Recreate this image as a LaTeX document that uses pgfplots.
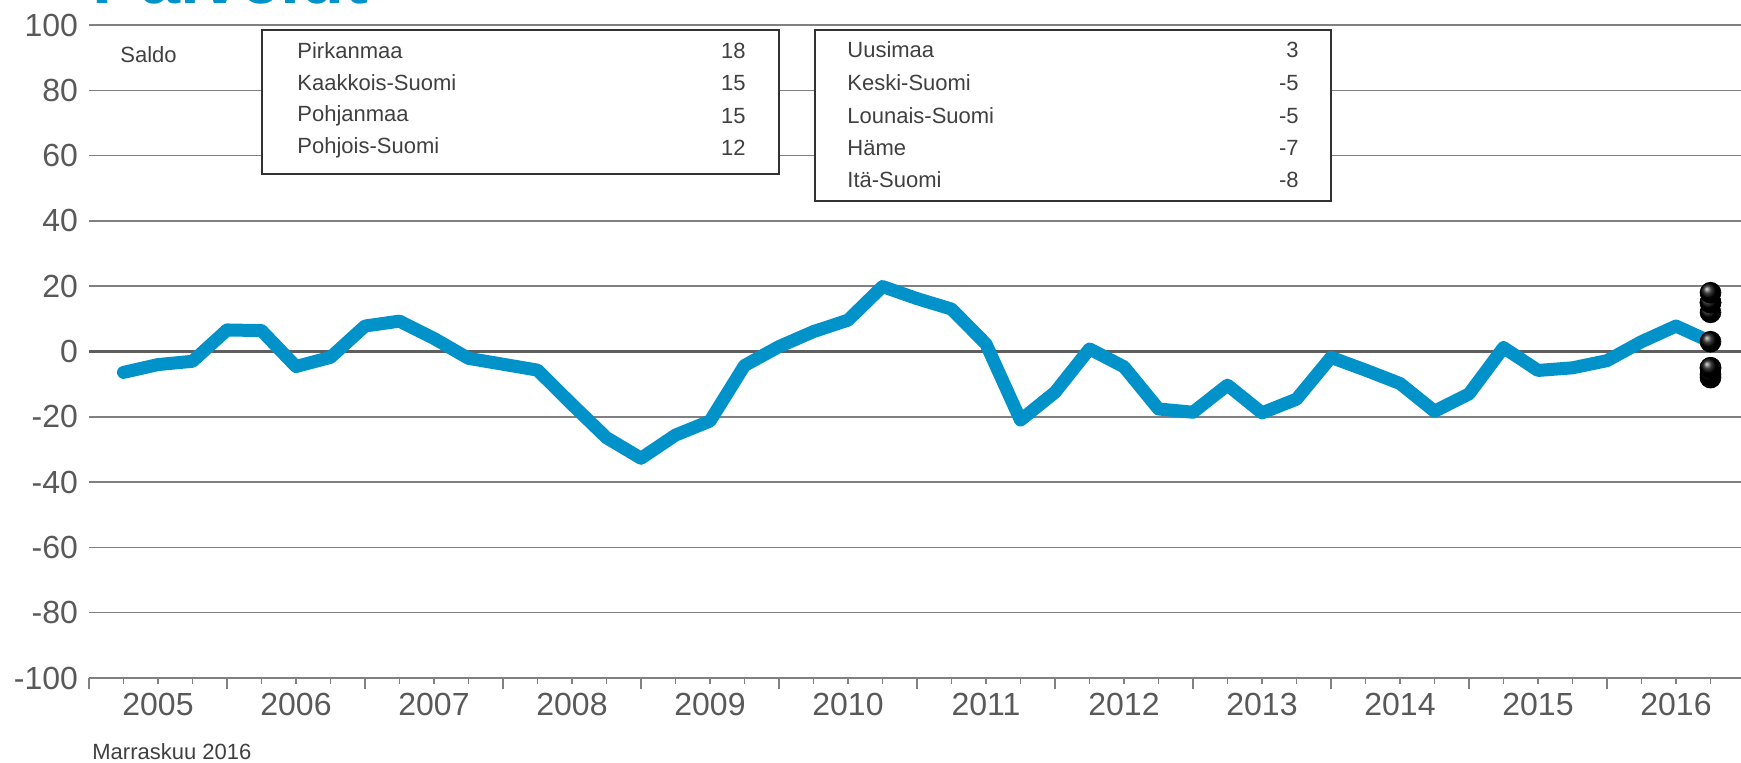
\documentclass[border=0pt]{standalone}
\usepackage{fontspec}
\setmainfont{Liberation Sans}
\usepackage{pgfplots}
\usepackage{pgfplotstable}
\pgfplotsset{compat=1.18}
\definecolor{lineblue}{RGB}{0,146,201}
\definecolor{tickgray}{RGB}{89,89,89}
\definecolor{gridgray}{RGB}{128,128,128}
\definecolor{zerogray}{RGB}{95,95,95}
\definecolor{textgray}{RGB}{64,64,64}
\definecolor{boxgray}{RGB}{50,50,50}

\pgfplotstableread{
i v
1 -6.4
2 -4.0
3 -3.0
4 6.6
5 6.4
6 -4.6
7 -1.8
8 7.8
9 9.3
10 4.0
11 -2.1
12 -3.9
13 -5.7
14 -16.2
15 -26.4
16 -32.7
17 -25.6
18 -21.3
19 -4.3
20 1.5
21 6.1
22 9.6
23 19.9
24 16.2
25 13.0
26 2.3
27 -21.0
28 -12.5
29 0.8
30 -4.7
31 -17.6
32 -18.6
33 -10.3
34 -18.8
35 -14.6
36 -1.8
37 -5.7
38 -9.8
39 -18.3
40 -13.0
41 1.2
42 -5.8
43 -5.0
44 -2.8
45 3.0
46 7.8
47 3.0
}\saldo

\pgfplotstableread{
i v
47 -8
47 -7
47 -5
47 -5
47 3
47 12
47 15
47 15
47 18
}\alueet

\begin{document}
\begin{tikzpicture}
\useasboundingbox (-44.5pt,-42pt) rectangle (826pt,339pt);
\clip (-44.5pt,-42pt) rectangle (826pt,339pt);
\begin{axis}[
  at={(0pt,0pt)}, anchor=south west,
  scale only axis, width=828pt, height=326.5pt,
  xmin=0, xmax=48, ymin=-100, ymax=100,
  axis line style={draw=none},
  ytick={-100,-80,...,100},
  yticklabels={-100,-80,-60,-40,-20,0,20,40,60,80,100},
  ymajorgrids, grid style={gridgray, line width=0.75pt},
  ytick style={draw=none},
  tick align=outside,
  xtick pos=bottom,
  xtick={0,4,...,48}, xticklabels={},
  minor x tick num=3,
  major tick length=5.3pt, minor tick length=2.8pt,
  xtick style={gridgray, line width=0.7pt},
  extra x ticks={2,6,...,46},
  extra x tick labels={2005,2006,2007,2008,2009,2010,2011,2012,2013,2014,2015,2016},
  extra x tick style={major tick length=0pt, xmajorgrids=false, tick style={draw=none}},
  extra y ticks={0},
  extra y tick labels={},
  extra y tick style={ymajorgrids=true, grid style={zerogray, line width=1.5pt}},
  ticklabel style={font=\fontsize{16}{18}\selectfont, text=tickgray},
  yticklabel style={anchor=east, inner sep=0pt},
  xticklabel style={anchor=base, inner sep=0pt, yshift=-18.5pt},
  clip=false,
]
\addplot[lineblue, line width=6.5pt, line join=round, line cap=round] table[x=i,y=v] {\saldo};
\addplot[only marks, mark=ball, mark size=5.2pt, mark options={ball color=black}] table[x=i,y=v] {\alueet};
\end{axis}

\node[anchor=base west, inner sep=0pt, text=lineblue, font=\fontsize{36}{40}\selectfont\bfseries] at (1.5pt,337pt) {Palvelut};

\begin{scope}[every node/.style={inner sep=0pt, text=textgray, font=\fontsize{11}{13}\selectfont}]
\node[anchor=west] at (15.5pt,311.5pt) {Saldo};
\node[anchor=west] at (1.5pt,-37pt) {Marraskuu 2016};

\filldraw[fill=white, draw=boxgray, line width=0.75pt] (86.5pt,252pt) rectangle (345pt,324pt);
\node[anchor=west] at (104pt,313.5pt) {Pirkanmaa};
\node[anchor=west] at (104pt,297.5pt) {Kaakkois-Suomi};
\node[anchor=west] at (104pt,281pt) {Pohjanmaa};
\node[anchor=west] at (104pt,265pt) {Pohjois-Suomi};
\node[anchor=east] at (328.5pt,313.5pt) {18};
\node[anchor=east] at (328.5pt,297.5pt) {15};
\node[anchor=east] at (328.5pt,281pt) {15};
\node[anchor=east] at (328.5pt,265pt) {12};

\filldraw[fill=white, draw=boxgray, line width=0.75pt] (363pt,238.5pt) rectangle (621pt,324pt);
\node[anchor=west] at (379pt,314pt) {Uusimaa};
\node[anchor=west] at (379pt,297.5pt) {Keski-Suomi};
\node[anchor=west] at (379pt,281pt) {Lounais-Suomi};
\node[anchor=west] at (379pt,265pt) {Häme};
\node[anchor=west] at (379pt,249pt) {Itä-Suomi};
\node[anchor=east] at (605pt,314pt) {3};
\node[anchor=east] at (605pt,297.5pt) {-5};
\node[anchor=east] at (605pt,281pt) {-5};
\node[anchor=east] at (605pt,265pt) {-7};
\node[anchor=east] at (605pt,249pt) {-8};
\end{scope}
\end{tikzpicture}
\end{document}
